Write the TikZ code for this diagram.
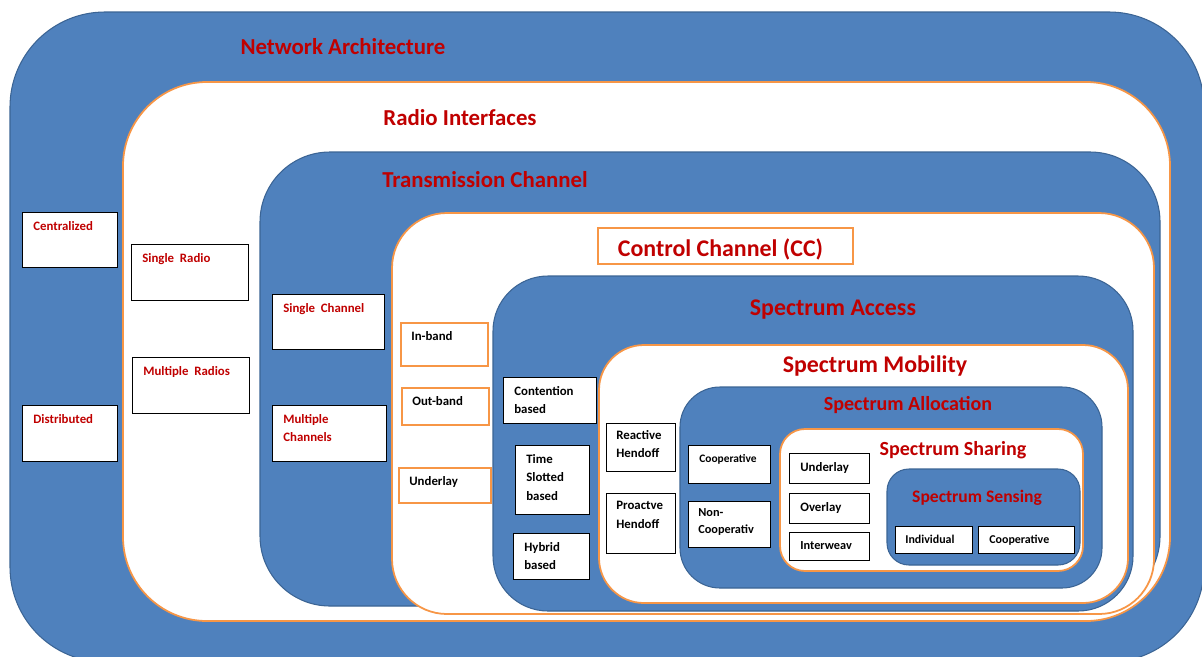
\documentclass[tikz,border=0pt]{standalone}
\usepackage{fontspec}
\setmainfont{Carlito}
\definecolor{areablue}{HTML}{4F81BD}
\definecolor{edgeblue}{HTML}{3B6494}
\definecolor{areaorange}{HTML}{F79646}
\definecolor{titlered}{HTML}{C00000}
\tikzset{
  bluearea/.style={fill=areablue, draw=edgeblue, line width=0.6pt},
  whitearea/.style={fill=white, draw=areaorange, line width=1pt},
  title/.style={text=titlered, font=\bfseries\fontsize{13}{15}\selectfont},
  bigtitle/.style={text=titlered, font=\bfseries\fontsize{13.6}{16}\selectfont},
  subtitle/.style={text=titlered, font=\bfseries\fontsize{11.4}{13}\selectfont},
  itembox/.style={draw=black, fill=white, line width=0.75pt, anchor=north west, inner sep=0pt},
  bandbox/.style={draw=areaorange, fill=white, line width=1.4pt, anchor=north west, inner sep=0pt},
  itemlabel/.style={anchor=north west, inner sep=0pt, xshift=0.22cm, yshift=-0.18cm, align=left,
    font=\bfseries\fontsize{7.3}{10.5}\selectfont},
  redlabel/.style={itemlabel, text=titlered},
}
\begin{document}
\begin{tikzpicture}[x=0.02cm, y=-0.02cm]
	\clip (0,0) rectangle (1202,656);

	% nested areas
	\draw[bluearea, rounded corners=1.9cm] (10,12) rectangle (1204,662);
	\draw[whitearea, rounded corners=1.68cm] (123,82) rectangle (1170,621);
	\draw[bluearea, rounded corners=1.4cm] (260,152) rectangle (1160,606);
	\draw[whitearea, rounded corners=1.1cm] (392,213) rectangle (1154,614);
	\draw[bluearea, rounded corners=1.1cm] (493,276) rectangle (1133,611);
	\draw[whitearea, rounded corners=0.9cm] (599,345) rectangle (1128,603);
	\draw[bluearea, rounded corners=0.8cm] (680,387) rectangle (1102,588);
	\draw[whitearea, rounded corners=0.5cm] (780,429) rectangle (1083,571);
	\draw[bluearea, rounded corners=0.44cm] (887,469) rectangle (1080,565);

	% titles
	\node[title] (netarch) at (343,47) {Network Architecture};
	\node[title] (radio) at (460,118) {Radio Interfaces};
	\node[title] (trans) at (485,180) {Transmission Channel};
	\node[bandbox, anchor=center, minimum width=5.1cm, minimum height=0.72cm,
		label={[bigtitle, anchor=center, xshift=-0.1cm, yshift=-0.06cm]center:Control Channel (CC)}] (cc) at (725.5,246) {};
	\node[bigtitle] (access) at (833,310) {Spectrum Access};
	\node[bigtitle] (mobility) at (875,366) {Spectrum Mobility};
	\node[subtitle] (alloc) at (908,405) {Spectrum Allocation};
	\node[subtitle] (sharing) at (953,450) {Spectrum Sharing};
	\node[subtitle, font=\bfseries\fontsize{10}{12}\selectfont] (sensing) at (977,498) {Spectrum Sensing};

	% network architecture
	\node[itembox, minimum width=1.9cm, minimum height=1.1cm, label={[redlabel]north west:Centralized}] (central) at (22,212) {};
	\node[itembox, minimum width=1.9cm, minimum height=1.12cm, label={[redlabel]north west:Distributed}] (distrib) at (22,405) {};

	% radio interfaces
	\node[itembox, minimum width=2.34cm, minimum height=1.12cm, label={[redlabel]north west:Single\ \ Radio}] (oneradio) at (131,244) {};
	\node[itembox, minimum width=2.34cm, minimum height=1.12cm, label={[redlabel]north west:Multiple\ \ Radios}] (multiradio) at (132,357) {};

	% transmission channel
	\node[itembox, minimum width=2.24cm, minimum height=1.1cm, label={[redlabel]north west:Single\ \ Channel}] (onechan) at (272,294) {};
	\node[itembox, minimum width=2.28cm, minimum height=1.12cm, label={[redlabel]north west:{Multiple\\Channels}}] (multichan) at (272,405) {};

	% control channel
	\node[bandbox, minimum width=1.74cm, minimum height=0.86cm, label={[itemlabel]north west:In-band}] (inband) at (400,322) {};
	\node[bandbox, minimum width=1.74cm, minimum height=0.74cm, label={[itemlabel]north west:Out-band}] (outband) at (401,387) {};
	\node[bandbox, minimum width=1.84cm, minimum height=0.7cm, label={[itemlabel]north west:Underlay}] (ccunder) at (398,467) {};

	% spectrum access
	\node[itembox, minimum width=1.86cm, minimum height=0.92cm, label={[itemlabel]north west:{Contention\\based}}] (contention) at (503,377) {};
	\node[itembox, minimum width=1.48cm, minimum height=1.38cm, label={[itemlabel]north west:{Time\\Slotted\\based}}] (slotted) at (515,445) {};
	\node[itembox, minimum width=1.52cm, minimum height=0.92cm, label={[itemlabel]north west:{Hybrid\\based}}] (hybrid) at (513,533) {};

	% spectrum mobility
	\node[itembox, minimum width=1.38cm, minimum height=0.96cm, label={[itemlabel, xshift=-0.02cm, yshift=0.04cm]north west:{Reactive\\Hendoff}}] (reactive) at (606,423) {};
	\node[itembox, minimum width=1.38cm, minimum height=1.2cm, label={[itemlabel, xshift=-0.02cm, yshift=0.02cm]north west:{Proactve\\Hendoff}}] (proactive) at (606,493) {};

	% spectrum allocation
	\node[itembox, minimum width=1.64cm, minimum height=0.76cm, label={[itemlabel, font=\bfseries\fontsize{6.5}{9.5}\selectfont]north west:Cooperative}] (alloccoop) at (688,445) {};
	\node[itembox, minimum width=1.64cm, minimum height=0.92cm, label={[itemlabel, xshift=-0.02cm, yshift=0.04cm, font=\bfseries\fontsize{7}{9.5}\selectfont]north west:{Non-\\Cooperativ}}] (allocnon) at (688,501) {};

	% spectrum sharing
	\node[itembox, minimum width=1.6cm, minimum height=0.6cm, label={[itemlabel]north west:Underlay}] (underlay) at (789,453) {};
	\node[itembox, minimum width=1.6cm, minimum height=0.6cm, label={[itemlabel]north west:Overlay}] (overlay) at (789,493) {};
	\node[itembox, minimum width=1.6cm, minimum height=0.56cm, label={[itemlabel, font=\bfseries\fontsize{7}{9.5}\selectfont]north west:Interweav}] (interweav) at (789,532) {};

	% spectrum sensing
	\node[itembox, minimum width=1.54cm, minimum height=0.54cm, label={[itemlabel, xshift=-0.02cm, font=\bfseries\fontsize{6.8}{9}\selectfont]north west:Individual}] (individual) at (895,526) {};
	\node[itembox, minimum width=1.92cm, minimum height=0.54cm, label={[itemlabel, font=\bfseries\fontsize{6.8}{9}\selectfont]north west:Cooperative}] (sensecoop) at (978,526) {};
\end{tikzpicture}
\end{document}
